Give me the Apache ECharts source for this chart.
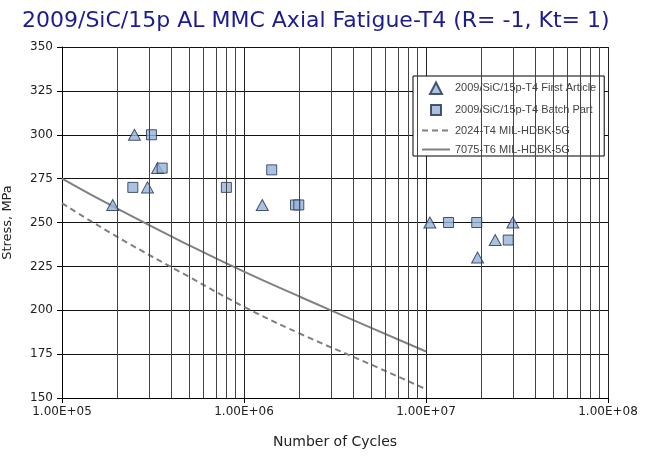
<!DOCTYPE html>
<html>
<head>
<meta charset="utf-8">
<script src="https://cdn.jsdelivr.net/npm/echarts@6/dist/echarts.min.js"></script>
<style>
html,body{margin:0;padding:0;background:#fff;}
#chart{width:655px;height:460px;}
</style>
</head>
<body>
<div id="chart"></div>
<script>
// ---- data ----
const titleText = '2009/SiC/15p AL MMC Axial Fatigue-T4 (R= -1, Kt= 1)';
const seriesNames = ['2009/SiC/15p-T4 First Article', '2009/SiC/15p-T4 Batch Part', '2024-T4 MIL-HDBK-5G', '7075-T6 MIL-HDBK-5G'];
// First Article (triangles): [cycles, stress MPa]
const firstArticle = [[1.9e5,260],[2.5e5,300],[2.95e5,270],[3.35e5,281],[1.26e6,260],[1.05e7,250],[1.92e7,230],[2.4e7,240],[3.0e7,250]];
// Batch Part (squares)
const batchPart = [[2.45e5,270],[3.1e5,300],[3.55e5,281],[8.0e5,270],[1.42e6,280],[1.92e6,260],[2.0e6,260],[1.33e7,250],[1.9e7,250],[2.83e7,240]];
// MIL-HDBK-5G curves
const al2024 = [[1e5,261],[2e5,242],[5e5,219],[1e6,202],[2e6,187],[5e6,169],[1e7,155]];
const al7075 = [[1e5,275],[2e5,258],[5e5,237],[1e6,222],[2e6,208],[5e6,190],[1e7,176.5]];
// axis ticks
const yTicks = [150,175,200,225,250,275,300,325,350];
const xMajor = [1e5,1e6,1e7,1e8];
const xMinorMult = [2,3,4,5,6,7,8,9];

const xGridLines = [];
for (let i = 0; i < xMajor.length - 1; i++) {
  xMinorMult.forEach(m => xGridLines.push(xMajor[i] * m));
}

function fmtExp(v){
  const e = Math.round(Math.log10(v));
  const m = v / Math.pow(10, e);
  return m.toFixed(2) + 'E+' + (e < 10 ? '0' + e : e);
}

const chart = echarts.init(document.getElementById('chart'), null, {renderer:'canvas'});
const FONT = 'DejaVu Sans';
const markerStyle = {color:'#95b3d7', borderColor:'#1f2f4f', borderWidth:1};
const triIcon = 'path://M0,0M28,12M8,12L14,0.5L20,12Z';
const rectIcon = 'path://M0,0M28,12M9,1L19,1L19,11L9,11Z';

chart.setOption({
  animation:false,
  backgroundColor:'#fff',
  title:{
    text:titleText, left:17, top:5,
    textStyle:{fontFamily:FONT, fontSize:22, fontWeight:'normal', color:'#1c1c90'}
  },
  grid:{left:62, right:47, top:47, bottom:62, outerBoundsMode:'none', containLabel:false},
  legend:{
    left:413, top:76, orient:'vertical',
    backgroundColor:'#fff', borderColor:'#000', borderWidth:1, borderRadius:0,
    padding:[5,8,1,8], itemGap:8, itemWidth:28, itemHeight:12,
    textStyle:{fontFamily:'Liberation Sans', fontSize:11, color:'#444'},
    data:[
      {name:seriesNames[0], icon:triIcon},
      {name:seriesNames[1], icon:rectIcon},
      {name:seriesNames[2], itemStyle:{opacity:0}},
      {name:seriesNames[3], itemStyle:{opacity:0}}
    ]
  },
  xAxis:{
    type:'log', logBase:10, min:xMajor[0], max:xMajor[xMajor.length-1],
    name:'Number of Cycles', nameLocation:'middle', nameGap:37,
    nameTextStyle:{fontFamily:FONT, fontSize:14, color:'#222'},
    axisLine:{show:true, lineStyle:{color:'#000', width:1}},
    axisTick:{show:true, length:5, inside:false, lineStyle:{color:'#000'}},
    axisLabel:{fontFamily:FONT, fontSize:12, color:'#222', margin:8, formatter:v=>fmtExp(v)},
    splitLine:{show:true, lineStyle:{color:'#222', width:1}},
    minorTick:{show:false}, minorSplitLine:{show:false}
  },
  yAxis:{
    type:'value', min:yTicks[0], max:yTicks[yTicks.length-1], interval:25,
    name:'Stress, MPa', nameLocation:'middle', nameRotate:90, nameGap:48,
    nameTextStyle:{fontFamily:FONT, fontSize:13, color:'#222'},
    axisLine:{show:true, lineStyle:{color:'#000', width:1}},
    axisTick:{show:true, length:5, inside:false, lineStyle:{color:'#000'}},
    axisLabel:{fontFamily:FONT, fontSize:12, color:'#222', margin:9},
    splitLine:{show:true, lineStyle:{color:'#111', width:1}}
  },
  series:[
    {
      type:'line', name:'grid', data:[], silent:true, z:1,
      markLine:{
        silent:true, symbol:'none', label:{show:false}, animation:false,
        lineStyle:{color:'#444', width:1, type:'solid'},
        emphasis:{disabled:true},
        data:xGridLines.map(v=>({xAxis:v}))
      }
    },
    {
      type:'line', name:seriesNames[2], data:al2024, showSymbol:false, symbol:'none', smooth:true, z:2,
      lineStyle:{color:'#808080', width:2, type:[6,4]}, itemStyle:{color:'#808080'}
    },
    {
      type:'line', name:seriesNames[3], data:al7075, showSymbol:false, symbol:'none', smooth:true, z:2,
      lineStyle:{color:'#808080', width:2, type:'solid'}, itemStyle:{color:'#808080'}
    },
    {
      type:'scatter', name:seriesNames[0], data:firstArticle, symbol:'triangle', symbolSize:[12,11], z:3,
      itemStyle:markerStyle
    },
    {
      type:'scatter', name:seriesNames[1], data:batchPart, symbol:'rect', symbolSize:10, z:3,
      itemStyle:markerStyle
    }
  ]
});
</script>
</body>
</html>
